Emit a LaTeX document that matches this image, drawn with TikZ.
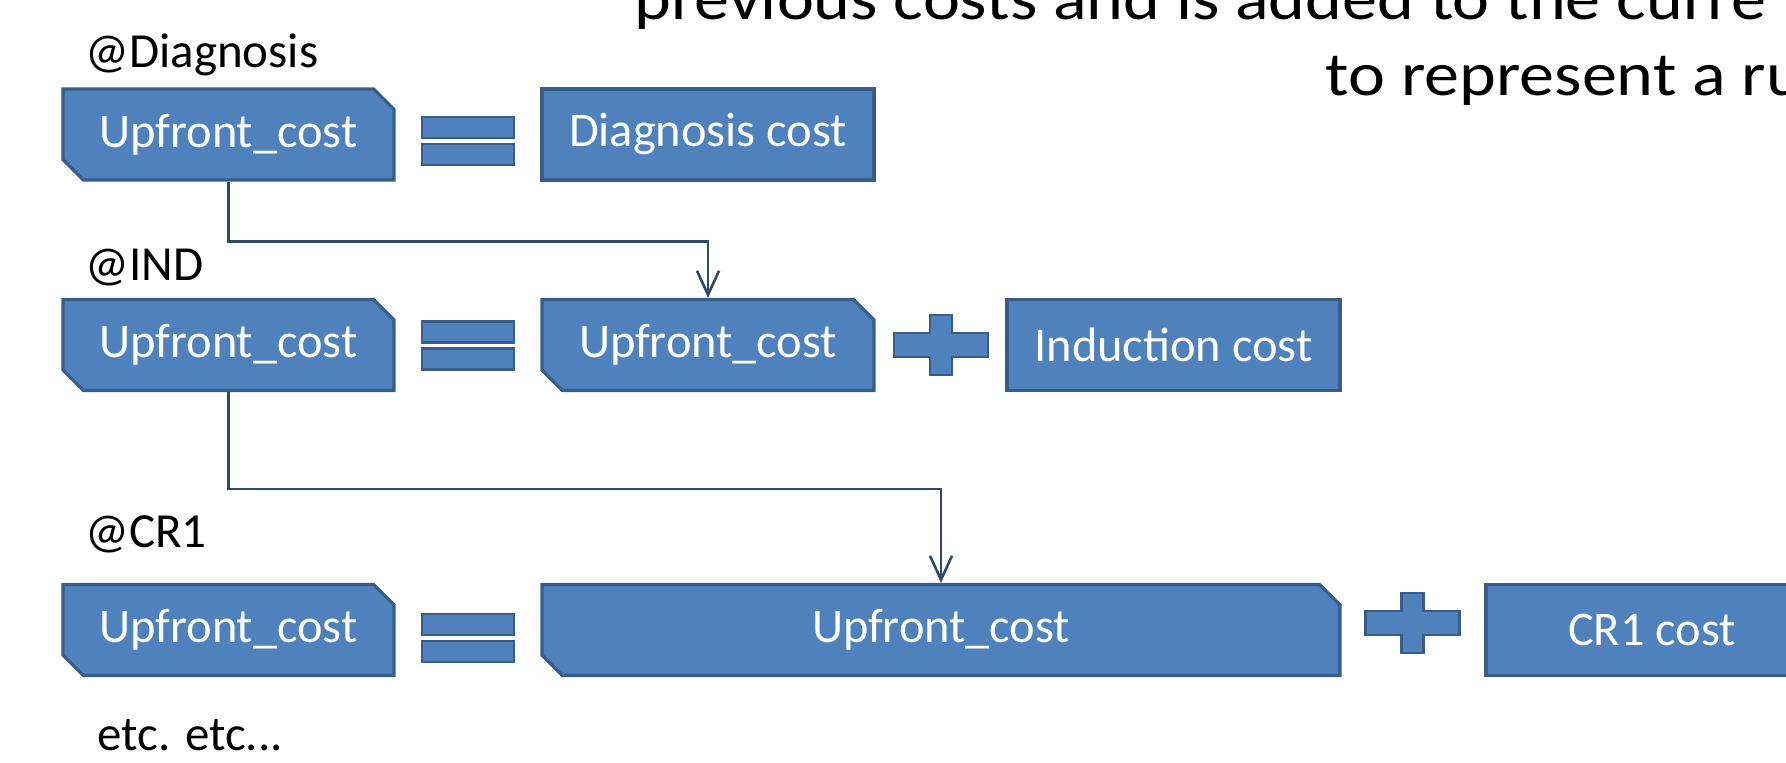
\documentclass[tikz,border=0pt]{standalone}
\usepackage{fontspec}
\setmainfont{Carlito}
\usetikzlibrary{shapes.misc,arrows.meta,positioning}
\definecolor{boxfill}{HTML}{4F81BD}
\definecolor{boxline}{HTML}{385D8A}
\definecolor{flowline}{HTML}{2E4A6B}

\begin{document}
\begin{tikzpicture}[x=0.5pt,y=-0.5pt]
  \tikzstyle{costbox}=[draw=boxline,fill=boxfill,line width=1.6pt,text=white,
    font=\fontsize{24.2}{29}\selectfont,minimum height=45.5pt,inner sep=0pt]
  \tikzstyle{upfront}=[costbox,chamfered rectangle,
    chamfered rectangle corners={north east,south west},chamfered rectangle xsep=7pt]
  \tikzstyle{sign}=[draw=boxline,fill=boxfill,line width=1.3pt]
  \tikzstyle{flow}=[draw=flowline,line width=1.3pt,
    -{Straight Barb[length=12pt,width=11pt,line width=1.3pt]}]
  \tikzstyle{stage}=[anchor=base west,inner sep=0pt,font=\fontsize{24.5}{29}\selectfont]
  \tikzstyle{heading}=[anchor=base west,inner sep=0pt,xscale=1.13,transform shape,
    font=\fontsize{31}{36}\selectfont]
  \useasboundingbox (0,0) rectangle (1786,762);
  \clip (0,0) rectangle (1786,762);
  % heading text, cut off by the slide edge
  \node[heading] (head-1) at (634,19) {previous costs and is added to the curre};
  \node[heading] (head-2) at (1325,95) {to represent a ru};
  % stage labels
  \node[stage] (lab-diag) at (85,67) {@Diagnosis};
  \node[stage] (lab-ind) at (85,280) {@IND};
  \node[stage] (lab-cr1) at (85,547) {@CR1};
  \node[stage] (etc) at (97,750) {etc. etc...};
  % boxes
  \foreach \name/\y in {1/134.5,2/345,3/630}
    \node[upfront,minimum width=165.5pt] (up-\name) at (228.5,\y) {Upfront\_cost};
  \node[costbox,minimum width=166pt] (diag) at (708,134.5) {Diagnosis cost};
  \node[upfront,minimum width=166pt] (prev-2) at (708,345) {Upfront\_cost};
  \node[costbox,minimum width=166.5pt] (ind) at (1173.5,345) {Induction cost};
  \node[upfront,minimum width=399pt] (prev-3) at (941,630) {Upfront\_cost};
  \node[costbox,minimum width=166pt] (cr1) at (1652,630) {CR1 cost};
  % equals signs
  \foreach \y in {141,345.5,638}{
    \draw[sign] (422,\y-24) rectangle (514,\y-3);
    \draw[sign] (422,\y+3) rectangle (514,\y+24);
  }
  % plus signs
  \foreach \x/\y in {941/345,1412.5/623}
    \draw[sign] (\x-11,\y-30) -- (\x+11,\y-30) -- (\x+11,\y-12) -- (\x+47,\y-12)
      -- (\x+47,\y+12) -- (\x+11,\y+12) -- (\x+11,\y+30) -- (\x-11,\y+30)
      -- (\x-11,\y+12) -- (\x-47,\y+12) -- (\x-47,\y-12) -- (\x-11,\y-12) -- cycle;
  % running total
  \draw[flow] (up-1.south) -- ++(0,60) -| (prev-2.north);
  \draw[flow] (up-2.south) -- ++(0,97) -| (prev-3.north);
\end{tikzpicture}
\end{document}
